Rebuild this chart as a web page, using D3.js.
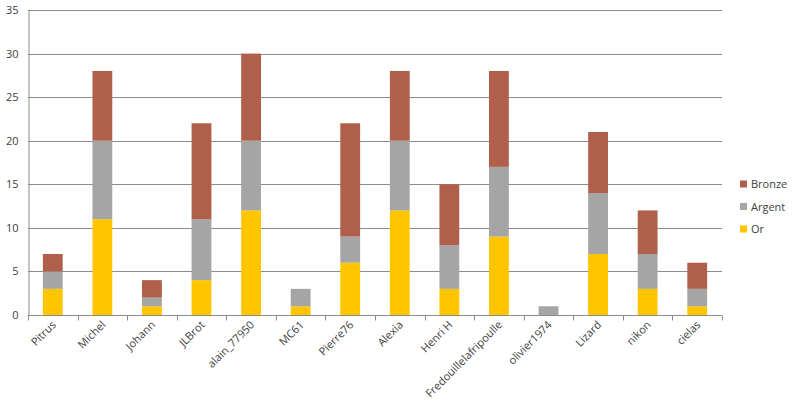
<!DOCTYPE html>
<html><head><meta charset="utf-8">
<script src="https://cdn.jsdelivr.net/npm/d3@7"></script>
<style>body{margin:0;background:#fff}svg{display:block}text{font-family:"Open Sans","DejaVu Sans",sans-serif;}</style>
</head><body><svg id="c" width="799" height="415"></svg>
<script>
const categories = ["Pitrus","Michel","Johann","JLBrot","alain_77950","MC61","Pierre76","Alexia","Henri H","Fredouillelafripoulle","olivier1974","Lizard","nikon","cielas"];
const or     = [3,11,1,4,12,1,6,12,3,9,0,7,3,1];
const argent = [2,9,1,7,8,2,3,8,5,8,1,7,4,2];
const bronze = [2,8,2,11,10,0,13,8,7,11,0,7,5,3];
const seriesNames = ["Or","Argent","Bronze"];
const colors = {Or:"#FFC600", Argent:"#A5A5A5", Bronze:"#B0604A"};
const yTicks = [0,5,10,15,20,25,30,35];

const svg = d3.select("#c");
const m = {l:28, r:722, t:10, b:315};
const x = d3.scaleBand().domain(categories).range([m.l, m.r]).paddingInner(0.6).paddingOuter(0.3);
const y = d3.scaleLinear().domain([0,35]).range([m.b, m.t]);

// gridlines
svg.append("g").selectAll("line").data(yTicks.filter(d=>d>0)).join("line")
  .attr("x1", m.l).attr("x2", m.r).attr("y1", d=>Math.round(y(d))+0.5).attr("y2", d=>Math.round(y(d))+0.5)
  .attr("stroke","#8c8c8c").attr("stroke-width",1);

const table = categories.map((c,i)=>({cat:c, Or:or[i], Argent:argent[i], Bronze:bronze[i]}));
const stacked = d3.stack().keys(seriesNames)(table);
svg.append("g").selectAll("g").data(stacked).join("g").attr("fill", d=>colors[d.key])
  .selectAll("rect").data(d=>d).join("rect")
  .attr("x", d=>x(d.data.cat)).attr("width", x.bandwidth())
  .attr("y", d=>y(d[1])).attr("height", d=>y(d[0])-y(d[1]));

// y axis
const ya = svg.append("g").attr("transform",`translate(${m.l+0.5},0)`)
  .call(d3.axisLeft(y).tickValues(yTicks).tickSize(0).tickPadding(10));
ya.select(".domain").attr("stroke","#8c8c8c");
ya.selectAll("text").attr("font-size",11).attr("fill","#404040");

// x axis
const step = x.step();
const xa = svg.append("g").attr("transform",`translate(0,${m.b+0.5})`);
xa.append("line").attr("x1",m.l).attr("x2",m.r).attr("stroke","#8c8c8c");
xa.selectAll("line.t").data(d3.range(categories.length+1)).join("line").attr("class","t")
  .attr("x1", i=>Math.round(m.l+i*step)+0.5).attr("x2", i=>Math.round(m.l+i*step)+0.5)
  .attr("y1",0).attr("y2",5).attr("stroke","#8c8c8c");
xa.selectAll("text").data(categories).join("text")
  .attr("transform", d=>`translate(${x(d)+x.bandwidth()/2+4},${10}) rotate(-45)`)
  .attr("text-anchor","end").attr("font-size",11).attr("fill","#404040")
  .text(d=>d);

// legend
const leg = svg.append("g");
const legItems = ["Bronze","Argent","Or"];
legItems.forEach((k,i)=>{
  const yy = 184 + i*22.5;
  leg.append("rect").attr("x",740).attr("y",yy-3.5).attr("width",7).attr("height",7).attr("fill",colors[k]);
  leg.append("text").attr("x",751).attr("y",yy+4).attr("font-size",11).attr("fill","#404040").text(k);
});
</script></body></html>
